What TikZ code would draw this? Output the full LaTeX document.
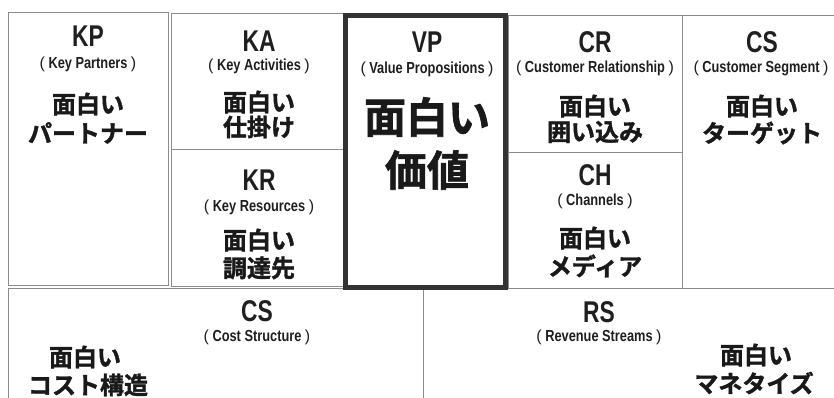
\documentclass[tikz,border=0pt]{standalone}
\usepackage{fontspec}
\newfontfamily\jpb{Noto Sans CJK JP Bold}[FakeBold=1.5]
\newfontfamily\lat{Liberation Sans Bold}[FakeStretch=0.76]
\newfontfamily\lats{Liberation Sans Bold}[FakeStretch=0.8]
\newfontfamily\latp{Liberation Sans}
\definecolor{gridgray}{HTML}{8C8C8C}
\definecolor{vpline}{HTML}{333333}
\tikzset{
  grid/.style={draw=gridgray, line width=0.9pt},
  vpbox/.style={draw=vpline, line width=5pt},
  abbr/.style={inner sep=0pt, font=\lat\fontsize{30}{30}\selectfont, text=black!88},
  sub/.style={inner sep=0pt, font=\lats\fontsize{16}{16}\selectfont, text=black!88},
  jtxt/.style={inner sep=0pt, font=\jpb\fontsize{24}{24}\selectfont, text=black!90},
  jbig/.style={inner sep=0pt, font=\jpb\fontsize{42}{42}\selectfont, text=black!90},
}
\newcommand{\paren}[1]{{\latp (}\hspace{3.5pt}#1\hspace{3.5pt}{\latp )}}
\begin{document}
\begin{tikzpicture}[x=1pt,y=-1pt]
\useasboundingbox (0,0) rectangle (834,398);
\clip (0,0) rectangle (834,398);
\fill[white] (0,0) rectangle (834,398);
% boxes
\draw[grid] (8,12) rectangle (168,285);
\draw[grid] (171,13) rectangle (345,149);
\draw[grid] (171,149) rectangle (345,286);
\draw[grid] (508,15) rectangle (682,152);
\draw[grid] (508,152) rectangle (682,288);
\draw[grid] (682,15) rectangle (850,288);
\draw[grid] (8,288) rectangle (423,420);
\draw[grid] (423,288) rectangle (850,420);
\draw[vpbox] (345.5,15.5) rectangle (505.5,287.5);
% KP
\node[abbr] (kp) at (88,36) {KP};
\node[sub] (kps) at (88,64) {\paren{Key Partners}};
\node[jtxt] (kp1) at (88,104) {面白い};
\node[jtxt] (kp2) at (88,133) {パートナー};
% KA
\node[abbr] (ka) at (259,41) {KA};
\node[sub] (kas) at (259,66) {\paren{Key Activities}};
\node[jtxt] (ka1) at (259,102) {面白い};
\node[jtxt] (ka2) at (259,127) {仕掛け};
% KR
\node[abbr] (kr) at (259,180) {KR};
\node[sub] (krs) at (259,207) {\paren{Key Resources}};
\node[jtxt] (kr1) at (259,240) {面白い};
\node[jtxt] (kr2) at (259,268) {調達先};
% VP
\node[abbr] (vp) at (427,42) {VP};
\node[sub] (vps) at (427,69) {\paren{Value Propositions}};
\node[jbig] (vp1) at (427,117) {面白い};
\node[jbig] (vp2) at (427,170) {価値};
% CR
\node[abbr] (cr) at (595,42) {CR};
\node[sub] (crs) at (595,68) {\paren{Customer Relationship}};
\node[jtxt] (cr1) at (595,106) {面白い};
\node[jtxt] (cr2) at (595,132) {囲い込み};
% CH
\node[abbr] (ch) at (595,175) {CH};
\node[sub] (chs) at (595,201) {\paren{Channels}};
\node[jtxt] (ch1) at (595,238) {面白い};
\node[jtxt] (ch2) at (595,266) {メディア};
% CS customer segment
\node[abbr] (cs) at (762,42) {CS};
\node[sub] (css) at (761,68) {\paren{Customer Segment}};
\node[jtxt] (cs1) at (762,106) {面白い};
\node[jtxt] (cs2) at (762,133) {ターゲット};
% Cost structure
\node[abbr] (co) at (257,311) {CS};
\node[sub] (cos) at (257,337) {\paren{Cost Structure}};
\node[jtxt] (co1) at (85,357) {面白い};
\node[jtxt] (co2) at (88,385) {コスト構造};
% Revenue streams
\node[abbr] (rs) at (599,312) {RS};
\node[sub] (rss) at (599,337) {\paren{Revenue Streams}};
\node[jtxt] (rs1) at (756,355) {面白い};
\node[jtxt] (rs2) at (754,383) {マネタイズ};
\end{tikzpicture}
\end{document}
